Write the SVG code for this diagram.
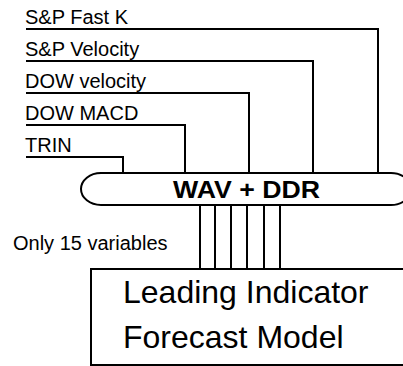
<svg xmlns="http://www.w3.org/2000/svg" width="403" height="366" viewBox="0 0 403 366">
<style>
.ln{fill:none;stroke:#000;stroke-width:2}
.lbl{font-family:"Liberation Sans",Arial,sans-serif;font-size:20px;fill:#000}
.big{font-family:"Liberation Sans",Arial,sans-serif;font-size:32px;fill:#000}
.bold{font-family:"Liberation Sans",Arial,sans-serif;font-size:23px;font-weight:bold;fill:#000}
</style>
<rect width="403" height="366" fill="#fff"/>
<g id="connectors">
<path class="ln" d="M26 29 H378 V173"/>
<path class="ln" d="M26 61 H313 V173"/>
<path class="ln" d="M26 93 H249 V173"/>
<path class="ln" d="M26 125 H185 V173"/>
<path class="ln" d="M26 157 H123 V173"/>
<path class="ln" d="M200 205 V269 M215 205 V269 M231 205 V269 M247 205 V269 M264 205 V269 M280 205 V269"/>
</g>
<g id="input-sp-fastk"><text class="lbl" x="25" y="24">S&amp;P Fast K</text></g>
<g id="input-sp-velocity"><text class="lbl" x="25" y="56">S&amp;P Velocity</text></g>
<g id="input-dow-velocity"><text class="lbl" x="25" y="88">DOW velocity</text></g>
<g id="input-dow-macd"><text class="lbl" x="25" y="120">DOW MACD</text></g>
<g id="input-trin"><text class="lbl" x="25" y="152">TRIN</text></g>
<g id="wav-ddr">
<rect class="ln" x="81" y="173" width="330" height="32" rx="20" ry="16"/>
<text class="bold" x="173" y="198" textLength="147" lengthAdjust="spacingAndGlyphs">WAV + DDR</text>
</g>
<g id="note"><text class="lbl" x="13" y="250">Only 15 variables</text></g>
<g id="model">
<path class="ln" d="M405 269 H91 V365 H405"/>
<text class="big" x="123" y="303">Leading Indicator</text>
<text class="big" x="123" y="348">Forecast Model</text>
</g>
</svg>
